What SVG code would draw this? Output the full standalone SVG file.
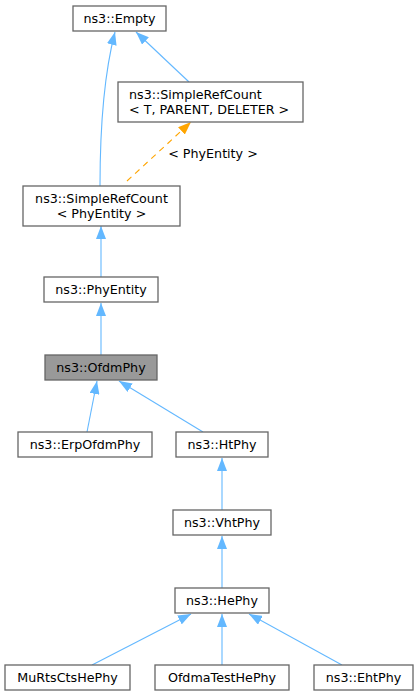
<svg xmlns="http://www.w3.org/2000/svg" width="419" height="696" viewBox="0 0 419 696">
<defs>
<style>
.n rect{fill:#ffffff;stroke:#666666;stroke-width:1.3}
.n.h rect{fill:#999999}
text{font-family:"DejaVu Sans","Liberation Sans",sans-serif;font-size:12.7px;fill:#000000;text-anchor:middle}
text.l{text-anchor:start}
.e{fill:none;stroke:#63b8ff;stroke-width:1.1}
.d{fill:none;stroke:#ffa500;stroke-width:1.1;stroke-dasharray:6,5}
</style>
<marker id="ab" markerUnits="userSpaceOnUse" markerWidth="13" markerHeight="10" refX="13" refY="5" orient="auto">
<path d="M0,0 L13,5 L0,10 z" fill="#63b8ff"/>
</marker>
<marker id="ao" markerUnits="userSpaceOnUse" markerWidth="13" markerHeight="10" refX="13" refY="5" orient="auto">
<path d="M0,0 L13,5 L0,10 z" fill="#ffa500"/>
</marker>
</defs>
<rect width="419" height="696" fill="#ffffff"/>
<g id="edges">
<path class="e" marker-end="url(#ab)" d="M100,186 C100,130 103,78 115,32"/>
<path class="e" marker-end="url(#ab)" d="M189,82 L136,32"/>
<path class="d" marker-end="url(#ao)" d="M127,181 L191,122"/>
<text x="213" y="158">&lt; PhyEntity &gt;</text>
<path class="e" marker-end="url(#ab)" d="M101,277 L101,226"/>
<path class="e" marker-end="url(#ab)" d="M101,355 L101,303"/>
<path class="e" marker-end="url(#ab)" d="M87,432 L97,381"/>
<path class="e" marker-end="url(#ab)" d="M203,432 L119,381"/>
<path class="e" marker-end="url(#ab)" d="M222,510 L222,458"/>
<path class="e" marker-end="url(#ab)" d="M222,588 L222,536"/>
<path class="e" marker-end="url(#ab)" d="M92,665 L191,614"/>
<path class="e" marker-end="url(#ab)" d="M222,665 L222,614"/>
<path class="e" marker-end="url(#ab)" d="M342,665 L249,614"/>
</g>
<g id="node_empty" class="n"><rect x="73" y="6" width="93" height="25"/><text x="119.5" y="22.5">ns3::Empty</text></g>
<g id="node_srct" class="n"><rect x="118" y="82" width="185" height="40"/><text class="l" x="129" y="99">ns3::SimpleRefCount</text><text class="l" x="129" y="114">&lt; T, PARENT, DELETER &gt;</text></g>
<g id="node_srcp" class="n"><rect x="23" y="186" width="157" height="40"/><text x="101.5" y="203">ns3::SimpleRefCount</text><text x="101.5" y="218">&lt; PhyEntity &gt;</text></g>
<g id="node_phyentity" class="n"><rect x="44" y="277" width="114" height="25"/><text x="101" y="293.5">ns3::PhyEntity</text></g>
<g id="node_ofdmphy" class="n h"><rect x="45" y="355" width="112" height="25"/><text x="101" y="371.5">ns3::OfdmPhy</text></g>
<g id="node_erp" class="n"><rect x="18" y="432" width="134" height="25"/><text x="85" y="448.5">ns3::ErpOfdmPhy</text></g>
<g id="node_ht" class="n"><rect x="176" y="432" width="92" height="25"/><text x="222" y="448.5">ns3::HtPhy</text></g>
<g id="node_vht" class="n"><rect x="173" y="510" width="98" height="25"/><text x="222" y="526.5">ns3::VhtPhy</text></g>
<g id="node_he" class="n"><rect x="175" y="588" width="94" height="25"/><text x="222" y="604.5">ns3::HePhy</text></g>
<g id="node_murts" class="n"><rect x="5" y="665" width="125" height="25"/><text x="67.5" y="681.5">MuRtsCtsHePhy</text></g>
<g id="node_ofdmatest" class="n"><rect x="155" y="665" width="134" height="25"/><text x="222" y="681.5">OfdmaTestHePhy</text></g>
<g id="node_eht" class="n"><rect x="314" y="665" width="99" height="25"/><text x="363.5" y="681.5">ns3::EhtPhy</text></g>
</svg>
